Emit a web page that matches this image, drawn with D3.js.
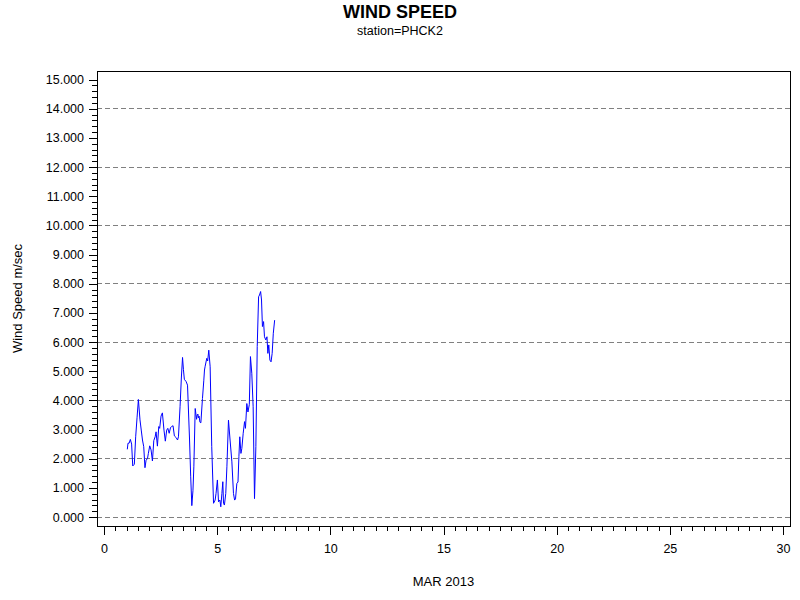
<!DOCTYPE html>
<html>
<head>
<meta charset="utf-8">
<script src="https://cdn.jsdelivr.net/npm/d3@7"></script>
<style>
  body { margin: 0; background: #fff; }
  svg { display: block; font-family: Arial, "Liberation Sans", sans-serif; }
</style>
</head>
<body>
<svg id="chart" width="800" height="600"></svg>
<script>
const title = "WIND SPEED";
const subtitle = "station=PHCK2";
const xLabel = "MAR 2013";
const yLabel = "Wind Speed m/sec";

const xTicks = [0, 5, 10, 15, 20, 25, 30];
const yTicks = [0, 1, 2, 3, 4, 5, 6, 7, 8, 9, 10, 11, 12, 13, 14, 15];
const gridValues = [0, 2, 4, 6, 8, 10, 12, 14];

const days = [1.03,1.06,1.11,1.165,1.22,1.27,1.34,1.40,1.46,1.52,1.59,1.65,1.70,1.755,1.81,1.86,1.92,1.96,2.02,2.08,2.14,2.20,2.26,2.30,2.36,2.42,2.46,2.52,2.58,2.65,2.71,2.77,2.82,2.88,2.94,2.99,3.05,3.11,3.19,3.25,3.29,3.36,3.42,3.47,3.51,3.55,3.63,3.69,3.78,3.83,3.88,3.93,3.97,4.03,4.09,4.12,4.15,4.17,4.20,4.24,4.28,4.35,4.41,4.44,4.47,4.54,4.58,4.63,4.69,4.76,4.84,4.91,4.95,5.01,5.06,5.12,5.16,5.21,5.25,5.28,5.32,5.38,5.43,5.50,5.57,5.65,5.72,5.77,5.81,5.87,5.92,5.96,6.00,6.05,6.09,6.15,6.21,6.25,6.31,6.36,6.42,6.47,6.53,6.59,6.65,6.71,6.77,6.83,6.87,6.92,6.96,7.00,7.05,7.09,7.15,7.20,7.24,7.28,7.33,7.38,7.43,7.48,7.54];
const speeds = [2.32,2.53,2.53,2.66,2.50,1.75,1.81,2.75,3.40,4.03,3.33,2.95,2.64,2.41,1.69,1.95,2.00,2.18,2.44,2.30,1.92,2.62,2.75,2.92,2.43,3.10,3.04,3.46,3.57,2.98,2.60,2.98,3.04,2.87,3.07,3.10,3.13,2.78,2.72,2.64,2.75,3.78,4.80,5.47,5.05,4.72,4.64,4.52,2.64,1.40,0.39,0.90,1.72,3.72,3.35,3.50,3.53,3.40,3.46,3.25,3.23,4.06,4.69,5.04,5.17,5.44,5.35,5.72,5.15,2.41,0.47,0.58,0.81,1.27,0.52,0.58,0.35,0.81,1.21,0.47,0.41,0.81,1.72,3.32,2.64,1.89,0.81,0.58,0.62,1.15,1.20,2.07,2.75,2.18,2.35,2.87,3.27,3.04,3.89,3.60,3.85,5.50,4.93,3.78,0.63,2.41,5.84,7.55,7.61,7.73,7.44,6.53,6.70,6.18,6.07,6.18,5.61,5.90,5.38,5.32,5.61,6.30,6.75];

const svg = d3.select("#chart");
const frame = { left: 97, right: 790, top: 71, bottom: 526 };

const x = d3.scaleLinear().domain([0, 30]).range([104, 783]);
const y = d3.scaleLinear().domain([0, 15]).range([517, 79.5]);

// Titles
svg.append("text").attr("x", 400).attr("y", 17.5).attr("text-anchor", "middle")
  .attr("font-size", 18).attr("font-weight", "bold").text(title);
svg.append("text").attr("x", 400).attr("y", 35).attr("text-anchor", "middle")
  .attr("font-size", 12.5).text(subtitle);

// Gridlines
svg.append("g").selectAll("line").data(gridValues).join("line")
  .attr("x1", frame.left).attr("x2", frame.right)
  .attr("y1", d => y(d)).attr("y2", d => y(d))
  .attr("stroke", "#808080").attr("stroke-width", 1)
  .attr("stroke-dasharray", "5,3").attr("shape-rendering", "crispEdges");

// Frame
svg.append("rect").attr("x", frame.left).attr("y", frame.top)
  .attr("width", frame.right - frame.left).attr("height", frame.bottom - frame.top)
  .attr("fill", "none").attr("stroke", "#000").attr("stroke-width", 1)
  .attr("shape-rendering", "crispEdges");

// X axis minor ticks
const xMinor = d3.range(0, 30.001, 0.5).filter(v => v % 5 !== 0);
svg.append("g").attr("transform", `translate(0,${frame.bottom})`)
  .call(d3.axisBottom(x).tickValues(xMinor).tickSize(5).tickFormat("").tickSizeOuter(0))
  .call(g => g.select(".domain").remove())
  .call(g => g.selectAll("line").attr("shape-rendering", "crispEdges"));
// X axis major ticks
svg.append("g").attr("transform", `translate(0,${frame.bottom})`)
  .call(d3.axisBottom(x).tickValues(xTicks).tickSize(9).tickPadding(9).tickFormat(d3.format("d")).tickSizeOuter(0))
  .call(g => g.select(".domain").remove())
  .call(g => g.selectAll("line").attr("shape-rendering", "crispEdges"))
  .call(g => g.selectAll("text").attr("font-size", 12.5).attr("font-family", "Arial, 'Liberation Sans', sans-serif").attr("fill", "#000"));

// Y axis minor ticks
const yMinor = d3.range(0, 15.001, 0.2).filter(v => Math.abs(v - Math.round(v)) > 1e-6);
svg.append("g").attr("transform", `translate(${frame.left},0)`)
  .call(d3.axisLeft(y).tickValues(yMinor).tickSize(5).tickFormat("").tickSizeOuter(0))
  .call(g => g.select(".domain").remove())
  .call(g => g.selectAll("line").attr("shape-rendering", "crispEdges"));
// Y axis major ticks
svg.append("g").attr("transform", `translate(${frame.left},0)`)
  .call(d3.axisLeft(y).tickValues(yTicks).tickSize(8).tickPadding(5).tickFormat(d3.format(".3f")).tickSizeOuter(0))
  .call(g => g.select(".domain").remove())
  .call(g => g.selectAll("line").attr("shape-rendering", "crispEdges"))
  .call(g => g.selectAll("text").attr("font-size", 12.5).attr("font-family", "Arial, 'Liberation Sans', sans-serif").attr("fill", "#000"));

// Axis labels
svg.append("text").attr("x", (frame.left + frame.right) / 2).attr("y", 586)
  .attr("text-anchor", "middle").attr("font-size", 13).text(xLabel);
svg.append("text").attr("transform", `translate(22,${(frame.top + frame.bottom) / 2}) rotate(-90)`)
  .attr("text-anchor", "middle").attr("font-size", 13).text(yLabel);

// Data line
const pts = days.map((d, i) => [d, speeds[i]]);
svg.append("path").datum(pts)
  .attr("fill", "none").attr("stroke", "#0000ff").attr("stroke-width", 1)
  .attr("d", d3.line().x(d => x(d[0])).y(d => y(d[1])));
</script>
</body>
</html>
